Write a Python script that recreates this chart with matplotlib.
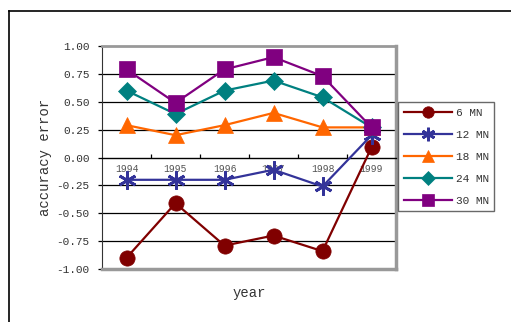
import matplotlib
matplotlib.use("Agg")
import matplotlib.pyplot as plt
from matplotlib.lines import Line2D
from matplotlib.ticker import FixedLocator, FuncFormatter

plt.rcParams["font.family"] = ["Liberation Mono", "DejaVu Sans Mono"]
plt.rcParams["axes.unicode_minus"] = False

years = ["1994", "1995", "1996", "1997", "1998", "1999"]
series_names = ["6 MN", "12 MN", "18 MN", "24 MN", "30 MN"]

err_6 = [-0.90, -0.41, -0.79, -0.70, -0.84, 0.09]
err_12 = [-0.20, -0.20, -0.20, -0.11, -0.26, 0.20]
err_18 = [0.29, 0.20, 0.29, 0.40, 0.27, 0.27]
err_24 = [0.60, 0.39, 0.60, 0.69, 0.54, 0.27]
err_30 = [0.79, 0.49, 0.79, 0.90, 0.73, 0.27]

colors = ["#800000", "#333399", "#ff6600", "#008080", "#800080"]
markers = ["o", (6, 2, 0), "^", "D", "s"]
sizes = [11, 13, 11, 9, 11]

fig = plt.figure(figsize=(5.11, 3.22), dpi=100)
ax = fig.add_axes([102 / 511, 53 / 322, 294 / 511, 223 / 322])

x = list(range(len(years)))
for vals, name, c, m, ms in zip(
    [err_6, err_12, err_18, err_24, err_30], series_names, colors, markers, sizes
):
    ax.plot(x, vals, color=c, lw=1.6, marker=m, markersize=ms,
            markeredgewidth=2.0 if isinstance(m, tuple) else 0.5, markeredgecolor=c,
            label=name, zorder=3)

ax.set_xlim(-0.5, 5.5)
ax.set_ylim(-1, 1)

# horizontal gridlines
for yv in [-0.75, -0.5, -0.25, 0.25, 0.5, 0.75]:
    ax.axhline(yv, color="black", lw=0.9, zorder=1)

ax.yaxis.set_major_locator(FixedLocator([-1, -0.75, -0.5, -0.25, 0, 0.25, 0.5, 0.75, 1]))
ax.yaxis.set_major_formatter(FuncFormatter(lambda v, p: f"{v:.2f}"))
ax.tick_params(axis="y", length=3, width=0.9, colors="black", labelcolor="#333333",
               labelsize=8, pad=6)

# category axis sits on the zero line, ticks point up between years
ax.spines["bottom"].set_position(("data", 0))
ax.spines["bottom"].set_color("black")
ax.spines["bottom"].set_linewidth(1.0)
ax.xaxis.set_major_locator(FixedLocator([i + 0.5 for i in x]))
ax.xaxis.set_major_formatter(FuncFormatter(lambda v, p: ""))
ax.xaxis.set_minor_locator(FixedLocator(x))
ax.set_xticklabels(years, minor=True)
ax.tick_params(axis="x", which="major", direction="in", length=3, width=0.9)
ax.tick_params(axis="x", which="minor", length=0, labelsize=7, labelcolor="#555555", pad=5)

ax.spines["left"].set_color("#333333")
ax.spines["top"].set_color("#999999")
ax.spines["top"].set_linewidth(2.0)
ax.spines["right"].set_color("#999999")
ax.spines["right"].set_linewidth(2.5)
ax.plot([0, 1], [0, 0], transform=ax.transAxes, color="#999999", lw=2.5,
        clip_on=False, zorder=4)

ax.set_ylabel("accuracy error", fontsize=10, color="#333333")
ax.yaxis.set_label_coords(-0.17, 0.5)
ax.set_xlabel("year", fontsize=10, color="#333333")
ax.xaxis.set_label_coords(0.5, -0.075)

fig.legend(loc="upper left", bbox_to_anchor=(398 / 511, 1 - 102 / 322),
           fontsize=8, frameon=True, fancybox=False, edgecolor="#444444",
           handlelength=4.4, labelspacing=1.08, markerscale=0.75,
           borderpad=0.5, handletextpad=0.3, borderaxespad=0)
leg = fig.legends[0]
leg.get_frame().set_linewidth(1.0)
for t in leg.get_texts():
    t.set_color("#333333")

# outer chart border
fig.add_artist(Line2D([8.5 / 511, 8.5 / 511], [0, 1 - 10.5 / 322], color="black", lw=1.2))
fig.add_artist(Line2D([8.5 / 511, 1], [1 - 10.5 / 322, 1 - 10.5 / 322], color="black", lw=1.2))

fig.savefig("out.png", dpi=100)
